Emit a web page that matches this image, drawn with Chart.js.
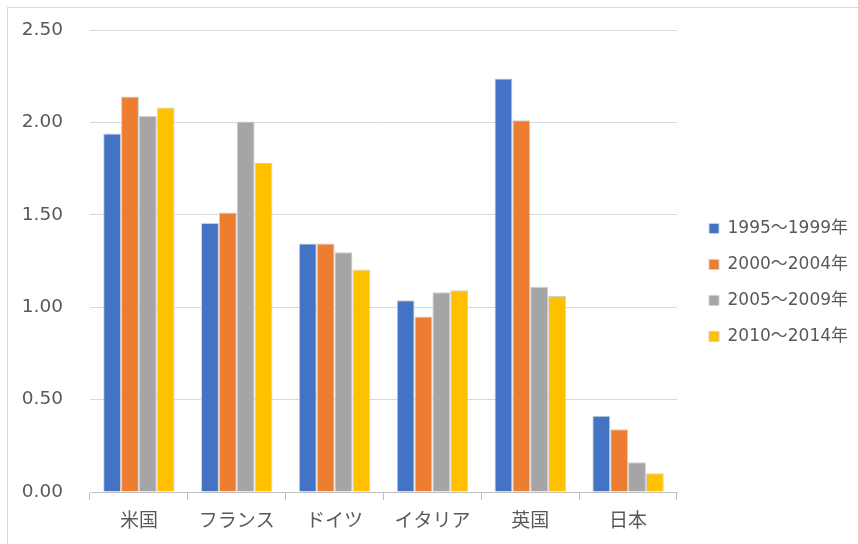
<!DOCTYPE html>
<html>
<head>
<meta charset="utf-8">
<script src="https://cdn.jsdelivr.net/npm/chart.js@4/dist/chart.umd.min.js"></script>
<style>
  html, body { margin: 0; padding: 0; background: #fff; }
  #wrap { position: relative; width: 858px; height: 544px; }
  #frame { position: absolute; left: 7px; top: 7px; right: -2px; bottom: -2px;
           border-left: 1px solid #d9d9d9; border-top: 1px solid #d9d9d9; }
  canvas { position: absolute; left: 0; top: 0; }
</style>
</head>
<body>
<div id="wrap">
  <div id="frame"></div>
  <canvas id="chart" width="858" height="544"></canvas>
</div>
<script>
const countries = ["米国", "フランス", "ドイツ", "イタリア", "英国", "日本"];
const periods = ["1995～1999年", "2000～2004年", "2005～2009年", "2010～2014年"];
const v1995 = [1.94, 1.455, 1.345, 1.037, 2.238, 0.412];
const v2000 = [2.14, 1.513, 1.345, 0.949, 2.012, 0.34];
const v2005 = [2.035, 2.005, 1.298, 1.081, 1.11, 0.161];
const v2010 = [2.08, 1.78, 1.204, 1.092, 1.06, 0.101];
const yTicks = [0, 0.5, 1, 1.5, 2, 2.5];

const colors = ["#4472C4", "#ED7D31", "#A5A5A5", "#FFC000"];
const series = [v1995, v2000, v2005, v2010];

const fontFamily = "'DejaVu Sans', 'Noto Sans CJK JP', sans-serif";
const textColor = "#595959";

// legend: fixed width so the plot ends at the same place, then nudged right/down
const legendPlace = {
  id: "legendPlace",
  beforeInit(chart) {
    const fit = chart.legend.fit;
    chart.legend.fit = function () {
      fit.call(this);
      this.width = 173;
    };
  },
  afterLayout(chart) {
    chart.legend.left += 13;
    chart.legend.top = 201;
  },
};

new Chart("chart", {
  type: "bar",
  plugins: [legendPlace],
  data: {
    labels: countries,
    datasets: series.map((vals, i) => ({
      label: periods[i],
      data: vals,
      backgroundColor: colors[i],
      borderColor: "#cfcfcf",
      borderWidth: 1,
      categoryPercentage: 0.73,
      barPercentage: 1.0,
    })),
  },
  options: {
    responsive: false,
    animation: false,
    layout: { padding: { left: 0, right: 8, top: 30, bottom: 0 } },
    plugins: {
      tooltip: { enabled: false },
      legend: {
        position: "right",
        align: "start",
        labels: {
          boxWidth: 10,
          boxHeight: 10,
          padding: 19,
          color: textColor,
          font: { family: fontFamily, size: 17 },
        },
      },
    },
    scales: {
      x: {
        grid: {
          display: true,
          offset: true,
          drawOnChartArea: false,
          drawTicks: true,
          tickLength: 8,
          color: "#bfbfbf",
        },
        border: { display: true, color: "#bfbfbf" },
        ticks: {
          color: textColor,
          padding: 11,
          font: { family: fontFamily, size: 19 },
          maxRotation: 0,
        },
        afterFit: (s) => { s.height = 52; },
      },
      y: {
        min: 0,
        max: 2.5,
        afterBuildTicks: (s) => { s.ticks = yTicks.map((v) => ({ value: v })); },
        grid: { color: "#d9d9d9", drawTicks: true, tickLength: 24, tickColor: "transparent", lineWidth: 1 },
        border: { display: false },
        ticks: {
          color: textColor,
          padding: 3,
          font: { family: fontFamily, size: 18.5 },
          callback: (v) => Number(v).toFixed(2),
        },
        afterFit: (s) => { s.width = 90; },
      },
    },
  },
});
</script>
</body>
</html>
